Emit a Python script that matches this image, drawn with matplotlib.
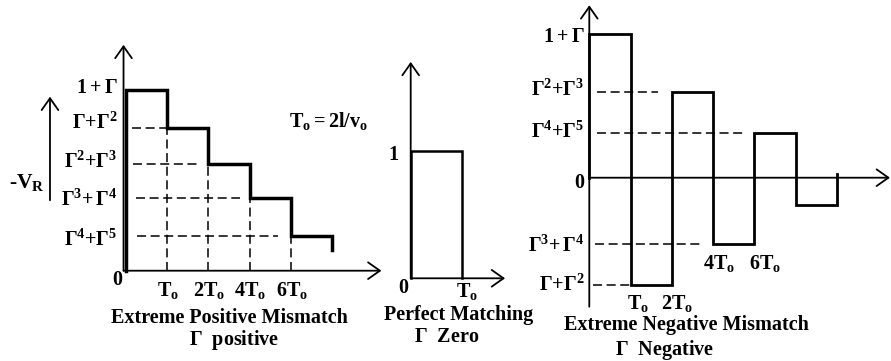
import matplotlib
matplotlib.use("Agg")
import matplotlib.pyplot as plt

plt.rcParams['font.family'] = ['Liberation Serif', 'DejaVu Serif']
plt.rcParams['font.weight'] = 'bold'
plt.rcParams['mathtext.fontset'] = 'custom'
plt.rcParams['mathtext.rm'] = 'Liberation Serif:bold'
plt.rcParams['mathtext.it'] = 'Liberation Serif:bold'
plt.rcParams['mathtext.bf'] = 'Liberation Serif:bold'
plt.rcParams['lines.scale_dashes'] = False

# ---------------- data ----------------
# Extreme positive mismatch (Gamma positive): staircase levels per T0 interval
pos_levels = [1.0, 0.79, 0.59, 0.40, 0.19]
pos_end = 0.115
pos_level_labels = [r"$1 + \Gamma$", r"$\Gamma{+}\Gamma^2$", r"$\Gamma^2{+}\Gamma^3$",
                    r"$\Gamma^3{+}\,\Gamma^4$", r"$\Gamma^4{+}\Gamma^5$"]
pos_dash_start = [0.15, 0.17, 0.24, 0.27]
pos_dash_end = [1.0, 1.8, 2.77, 3.69]
pos_time_labels = [r"$\mathrm{T_o}$", r"$\mathrm{2T_o}$", r"$\mathrm{4T_o}$", r"$\mathrm{6T_o}$"]

# Perfect matching (Gamma zero)
zero_level = 1.0

# Extreme negative mismatch (Gamma negative): alternating levels
neg_levels = [1.0, -0.747, 0.598, -0.464, 0.309, -0.190]
neg_end = 0.026
neg_label_levels = [1.0, 0.598, 0.309, 0.0, -0.464, -0.747]
neg_level_labels = [r"$1 + \Gamma$", r"$\Gamma^2{+}\Gamma^3$", r"$\Gamma^4{+}\Gamma^5$",
                    "0", r"$\Gamma^3{+}\,\Gamma^4$", r"$\Gamma{+}\Gamma^2$"]
neg_dash_levels = [0.598, 0.309, -0.464, -0.747]
neg_dash_start = [0.18, 0.18, 0.14, 0.09]
neg_dash_end = [1.66, 3.72, 2.75, 1.0]
neg_time_labels = [r"$\mathrm{T_o}$", r"$\mathrm{2T_o}$", r"$\mathrm{4T_o}$", r"$\mathrm{6T_o}$"]
neg_time_pos = [(1.18, -0.872), (2.12, -0.872), (3.15, -0.594), (4.26, -0.594)]

W, H = 891, 361
fig = plt.figure(figsize=(W / 100, H / 100), dpi=100)
fig.patch.set_facecolor('white')


def make_axes(ox, oy, sx, sy):
    ax = fig.add_axes([0, 0, 1, 1])
    ax.set_xlim(-ox / sx, (W - ox) / sx)
    ax.set_ylim((oy - H) / sy, oy / sy)
    ax.axis('off')
    ax.set_facecolor('none')
    return ax


def arrow(ax, start, tip, lw=1.3):
    ax.annotate('', xy=tip, xytext=start,
                arrowprops=dict(arrowstyle='->,head_length=0.85,head_width=0.6',
                                lw=lw, color='black', shrinkA=0, shrinkB=0,
                                mutation_scale=10))


def step_path(levels, end):
    xs, ys = [0], [0]
    for i, v in enumerate(levels):
        xs += [i, i + 1]
        ys += [v, v]
    xs.append(len(levels))
    ys.append(end)
    return xs, ys


DASH = (0, (6.5, 3.3))
TFS = 14.5
LFS = 14.5

# ---------------- left panel ----------------
axL = make_axes(126, 270.7, 41.2, 180.7)
arrow(axL, (-0.06, 0), (-0.06, 1.25))
arrow(axL, (-0.06, 0), (6.2, 0))
arrow(axL, (-1.845, 0.39), (-1.845, 0.963))
xs, ys = step_path(pos_levels, pos_end)
axL.plot(xs, ys, color='black', lw=2.5, solid_joinstyle='miter')
for i in range(1, len(pos_levels)):
    axL.plot([pos_dash_start[i - 1], pos_dash_end[i - 1]], [pos_levels[i]] * 2,
             color='black', lw=1.1, ls=DASH)
    axL.plot([i, i], [0, pos_levels[i]], color='black', lw=1.1, ls=DASH)
label_dy = [0.01, 0.025, 0.01, -0.01, -0.02]
for v, lab, dy in zip(pos_levels, pos_level_labels, label_dy):
    axL.text(-0.2, v + dy, lab, ha='right', va='center', fontsize=LFS)
axL.text(-0.22, -0.05, "0", ha='center', va='center', fontsize=LFS)
for i, lab in enumerate(pos_time_labels):
    axL.text(i + 1.02, -0.11, lab, ha='center', va='center', fontsize=LFS)
axL.text(2.51, -0.26, "Extreme Positive Mismatch", ha='center', va='center', fontsize=TFS)
axL.text(2.62, -0.385, r"$\Gamma$  positive", ha='center', va='center', fontsize=TFS)
axL.text(3.95, 0.83, r"$\mathrm{T_o = 2l/v_o}$", ha='left', va='center', fontsize=LFS)
axL.text(-2.4, 0.49, r"-$\mathrm{V_R}$", ha='center', va='center', fontsize=15.5)

# ---------------- middle panel ----------------
axM = make_axes(410.7, 278.3, 51.3, 127.3)
arrow(axM, (0, 0), (0, 1.70))
arrow(axM, (0, 0), (1.84, 0))
axM.plot([0, 0, 1, 1], [0, zero_level, zero_level, 0], color='black', lw=1.8,
         solid_joinstyle='miter')
axM.text(-0.33, zero_level - 0.03, "1", ha='center', va='center', fontsize=LFS)
axM.text(-0.15, -0.08, "0", ha='center', va='center', fontsize=LFS)
axM.text(1.1, -0.1, r"$\mathrm{T_o}$", ha='center', va='center', fontsize=LFS)
axM.text(0.94, -0.29, "Perfect Matching", ha='center', va='center', fontsize=TFS)
axM.text(0.71, -0.46, r"$\Gamma$  Zero", ha='center', va='center', fontsize=TFS)

# ---------------- right panel ----------------
axR = make_axes(589.3, 177.7, 41.3, 143.7)
arrow(axR, (0, -0.898), (0, 1.20))
arrow(axR, (0, 0), (7.28, 0))
xs, ys = step_path(neg_levels, neg_end)
axR.plot(xs, ys, color='black', lw=2.0, solid_joinstyle='miter')
for v, a, b in zip(neg_dash_levels, neg_dash_start, neg_dash_end):
    axR.plot([a, b], [v, v], color='black', lw=1.1, ls=DASH)
neg_dy = [-0.02, 0.01, 0.01, -0.04, -0.01, 0.0]
for v, lab, dy in zip(neg_label_levels, neg_level_labels, neg_dy):
    axR.text(-0.12, v + dy, lab, ha='right', va='center', fontsize=LFS)
for (x, y), lab in zip(neg_time_pos, neg_time_labels):
    axR.text(x, y, lab, ha='center', va='center', fontsize=LFS)
axR.text(2.36, -1.025, "Extreme Negative Mismatch", ha='center', va='center', fontsize=TFS)
axR.text(1.83, -1.2, r"$\Gamma$  Negative", ha='center', va='center', fontsize=TFS)

fig.savefig("out.png", dpi=100, facecolor='white')
